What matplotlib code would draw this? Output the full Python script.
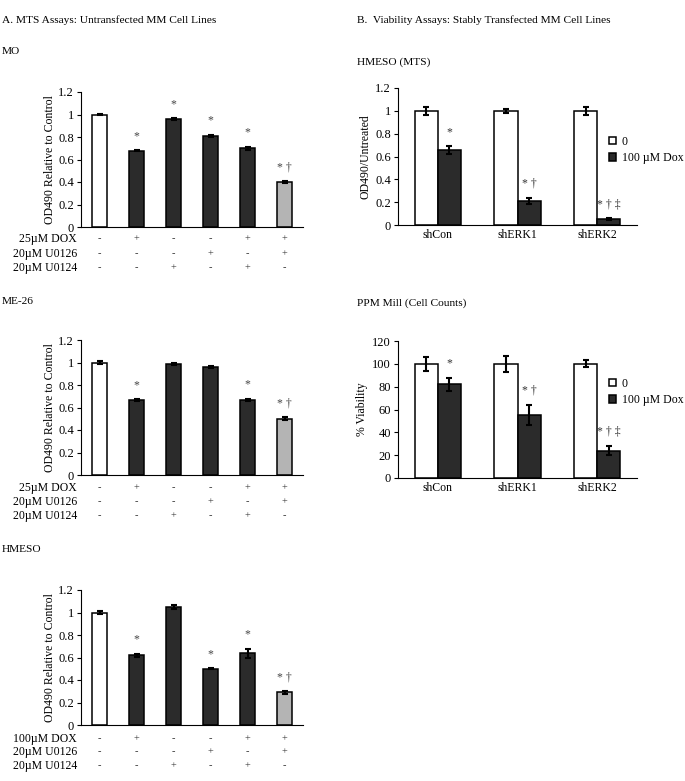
import matplotlib
matplotlib.use('Agg')
import matplotlib.pyplot as plt
from matplotlib.transforms import blended_transform_factory

plt.rcParams['font.family'] = ['Liberation Serif', 'DejaVu Serif']

W, H = 685, 781

# panel A data
treat_rows = ['DOX', '20\u00b5M U0126', '20\u00b5M U0124']
dox_signs = ['-', '+', '-', '-', '+', '+']
u0126_signs = ['-', '-', '-', '+', '-', '+']
u0124_signs = ['-', '-', '+', '-', '+', '-']

mo_vals = [1.0, 0.68, 0.96, 0.81, 0.70, 0.40]
mo_err = [0.006, 0.006, 0.01, 0.012, 0.015, 0.008]
mo_marks = ['', '*', '*', '*', '*', '* \u2020']

me26_vals = [1.0, 0.665, 0.985, 0.96, 0.67, 0.50]
me26_err = [0.015, 0.01, 0.01, 0.012, 0.01, 0.015]
me26_marks = ['', '*', '', '', '*', '* \u2020']

hmeso_vals = [1.0, 0.62, 1.05, 0.50, 0.64, 0.29]
hmeso_err = [0.015, 0.015, 0.02, 0.005, 0.04, 0.01]
hmeso_marks = ['', '*', '', '*', '*', '* \u2020']

bar_colors = ['white', '#2b2b2b', '#2b2b2b', '#2b2b2b', '#2b2b2b', '#b4b4b4']

# panel B data
groups = ['shCon', 'shERK1', 'shERK2']
mts_ctrl = [1.0, 1.0, 1.0]
mts_ctrl_err = [0.035, 0.015, 0.035]
mts_dox = [0.655, 0.21, 0.05]
mts_dox_err = [0.035, 0.025, 0.008]
mts_marks = ['*', '* \u2020', '* \u2020 \u2021']

cnt_ctrl = [100, 100, 100]
cnt_ctrl_err = [6, 7, 3]
cnt_dox = [82, 55, 24]
cnt_dox_err = [6, 9, 4]
cnt_marks = ['*', '* \u2020', '* \u2020 \u2021']

fig = plt.figure(figsize=(W / 100, H / 100), dpi=100)


def px_axes(left, right, bottom, top):
    return fig.add_axes([left / W, 1 - bottom / H, (right - left) / W, (bottom - top) / H])


def style(ax):
    ax.spines['top'].set_visible(False)
    ax.spines['right'].set_visible(False)
    ax.spines['left'].set_linewidth(0.8)
    ax.spines['bottom'].set_linewidth(0.8)
    ax.tick_params(axis='y', length=3, width=0.8, labelsize=9, pad=2)


ekw = dict(ecolor='black', elinewidth=1.5, capsize=2.5, capthick=1.5)


def panel_a(bottom, top, vals, err, marks, dose, rows_y):
    ax = px_axes(81, 303, bottom, top)
    x = list(range(len(vals)))
    ax.bar(x, vals, width=0.4, color=bar_colors, edgecolor='black', linewidth=1.1,
           yerr=err, error_kw=ekw)
    ax.set_xlim(-0.5, 5.5)
    ax.set_ylim(0, 1.2)
    ax.set_yticks([0, 0.2, 0.4, 0.6, 0.8, 1, 1.2])
    ax.set_yticklabels(['0', '0.2', '0.4', '0.6', '0.8', '1', '1.2'])
    ax.set_xticks([])
    style(ax)
    ax.set_ylabel('OD490 Relative to Control', fontsize=8.5, labelpad=2)
    for xi, v, e, m in zip(x, vals, err, marks):
        if m:
            ax.text(xi, v + e + 0.07, m, ha='center', va='bottom', fontsize=8.5, color='#444444')
    tr = blended_transform_factory(ax.transData, fig.transFigure)
    labels = [dose + 'M DOX', treat_rows[1], treat_rows[2]]
    for ry, lab, signs in zip(rows_y, labels, [dox_signs, u0126_signs, u0124_signs]):
        fig.text(77 / W, 1 - ry / H, lab, ha='right', va='center', fontsize=8.5)
        for xi, s in zip(x, signs):
            ax.text(xi, 1 - ry / H, s, transform=tr, ha='center', va='center',
                    fontsize=7.5, color='#333333', clip_on=False)
    return ax


def panel_b(bottom, top, ctrl, ctrl_err, dox, dox_err, marks, ylim, ticks, ylabel, leg_y):
    ax = px_axes(398, 637, bottom, top)
    x = list(range(len(groups)))
    ax.bar([i - 0.145 for i in x], ctrl, width=0.29, color='white', edgecolor='black',
           linewidth=1.1, yerr=ctrl_err, error_kw=ekw, label='0')
    ax.bar([i + 0.145 for i in x], dox, width=0.29, color='#2b2b2b', edgecolor='black',
           linewidth=1.1, yerr=dox_err, error_kw=ekw, label='100 \u00b5M Dox')
    ax.set_xlim(-0.5, 2.5)
    ax.set_ylim(*ylim)
    ax.set_yticks(ticks)
    ax.set_xticks(x)
    ax.set_xticklabels(groups, fontsize=8.5)
    ax.tick_params(axis='x', length=0, pad=3)
    style(ax)
    ax.set_ylabel(ylabel, fontsize=8.5, labelpad=3)
    off = (ylim[1] - ylim[0]) * 0.06
    for xi, v, e, m in zip(x, dox, dox_err, marks):
        ax.text(xi + 0.145, v + e + off, m, ha='center', va='bottom', fontsize=8.5, color='#333333')
    ax.legend(loc='upper left', bbox_to_anchor=(603 / W, 1 - leg_y / H),
              bbox_transform=fig.transFigure, frameon=False, fontsize=8.5,
              handlelength=0.6, handleheight=0.6, handletextpad=0.5, labelspacing=0.35,
              borderpad=0)
    return ax


# headings
fig.text(2 / W, 1 - 20 / H, 'A. MTS Assays: Untransfected MM Cell Lines', fontsize=8.2, va='center')
fig.text(2 / W, 1 - 51 / H, 'MO', fontsize=8.2, va='center')
fig.text(2 / W, 1 - 302 / H, 'ME-26', fontsize=8.2, va='center')
fig.text(2 / W, 1 - 549 / H, 'HMESO', fontsize=8.2, va='center')
fig.text(357 / W, 1 - 20 / H, 'B.  Viability Assays: Stably Transfected MM Cell Lines', fontsize=8.2, va='center')
fig.text(357 / W, 1 - 62 / H, 'HMESO (MTS)', fontsize=8.2, va='center')
fig.text(357 / W, 1 - 303 / H, 'PPM Mill (Cell Counts)', fontsize=8.2, va='center')

panel_a(227, 92, mo_vals, mo_err, mo_marks, '25\u00b5', [239, 254, 268])
panel_a(475, 340, me26_vals, me26_err, me26_marks, '25\u00b5', [488, 502, 516])
panel_a(725, 590, hmeso_vals, hmeso_err, hmeso_marks, '100\u00b5', [739, 752, 766])

panel_b(225, 88, mts_ctrl, mts_ctrl_err, mts_dox, mts_dox_err, mts_marks,
        (0, 1.2), [0, 0.2, 0.4, 0.6, 0.8, 1, 1.2], 'OD490/Untreated', 130)
b1 = fig.axes[-1]
b1.set_yticklabels(['0', '0.2', '0.4', '0.6', '0.8', '1', '1.2'])
panel_b(478, 341, cnt_ctrl, cnt_ctrl_err, cnt_dox, cnt_dox_err, cnt_marks,
        (0, 120), [0, 20, 40, 60, 80, 100, 120], '% Viability', 372)

fig.savefig('out.png', dpi=100)
